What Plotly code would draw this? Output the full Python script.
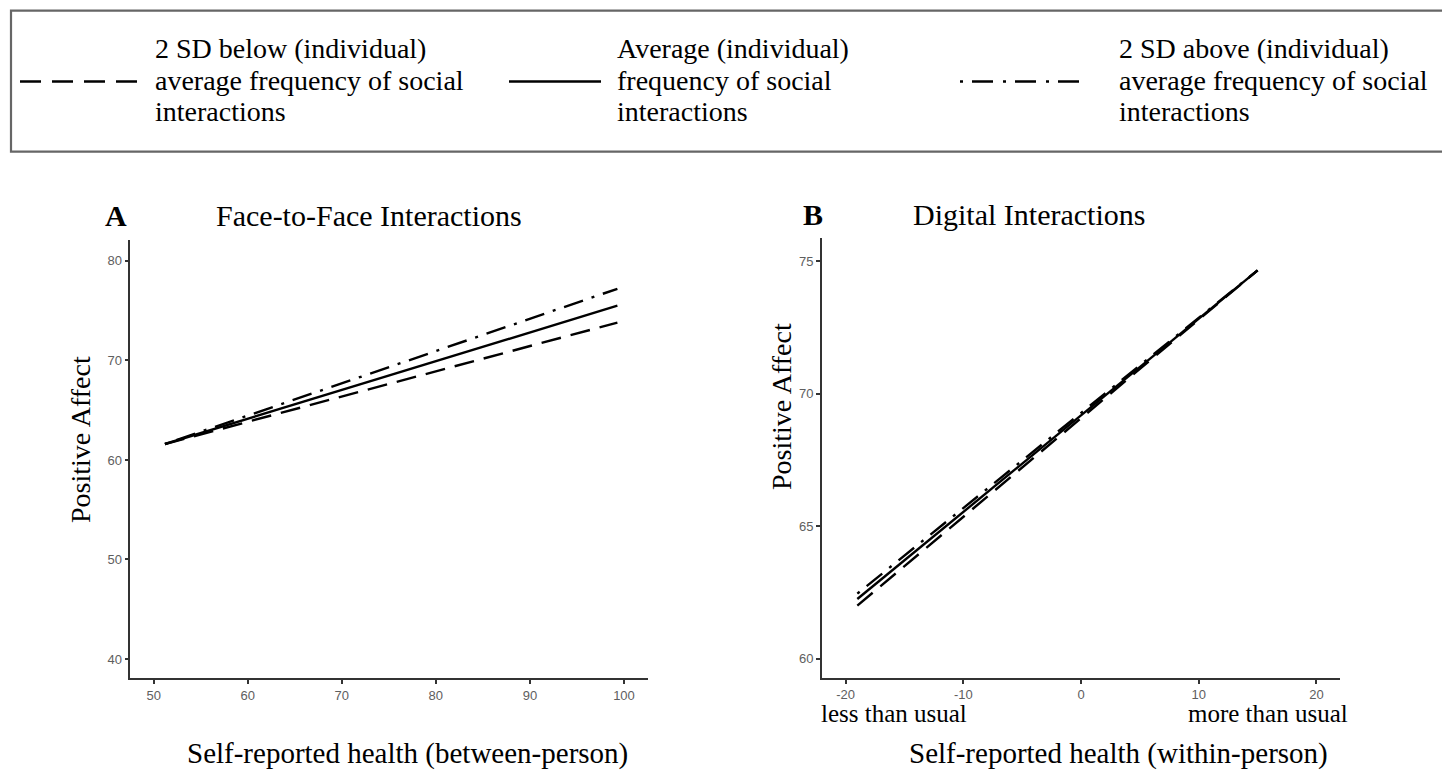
import plotly.graph_objects as go

# Browser page has an 8px body margin: compensate so page pixels match the reference.
OFF = 8
W, H = 1450 - OFF, 776 - OFF

def px(x):
    return (x - OFF) / W

def py(y):
    return 1 - (y - OFF) / H

# ---------------- data ----------------
# Panel A: Face-to-Face interactions
a_health = [51.2, 99.3]
a_below = [61.6, 73.8]
a_avg = [61.6, 75.5]
a_above = [61.6, 77.2]

# Panel B: Digital interactions
b_health = [-19.0, 15.0]
b_below = [62.0, 74.65]
b_avg = [62.25, 74.65]
b_above = [62.45, 74.65]

a_xticks = [50, 60, 70, 80, 90, 100]
a_yticks = [40, 50, 60, 70, 80]
b_xticks = [-20, -10, 0, 10, 20]
b_yticks = [60, 65, 70, 75]

legend_labels = [
    ["2 SD below (individual)", "average frequency of social", "interactions"],
    ["Average (individual)", "frequency of social", "interactions"],
    ["2 SD above (individual)", "average frequency of social", "interactions"],
]

DASH = "20px,10px"
DOTDASH = "3px,9px,20px,9px"
LW = 2.4

fig = go.Figure()

for xs, ys, dash, xa, ya in [
    (a_health, a_below, DASH, "x", "y"),
    (a_health, a_avg, "solid", "x", "y"),
    (a_health, a_above, DOTDASH, "x", "y"),
    (b_health, b_below, DASH, "x2", "y2"),
    (b_health, b_avg, "solid", "x2", "y2"),
    (b_health, b_above, DOTDASH, "x2", "y2"),
]:
    fig.add_trace(go.Scatter(x=xs, y=ys, mode="lines", xaxis=xa, yaxis=ya,
                             line=dict(color="black", width=LW, dash=dash),
                             showlegend=False, hoverinfo="skip"))

axis_common = dict(showline=True, linecolor="#333333", linewidth=1.8,
                   ticks="outside", ticklen=4, tickwidth=1.5, tickcolor="#333333",
                   showgrid=False, zeroline=False,
                   tickfont=dict(family="Liberation Sans, Arial", size=13, color="#5e5e5e"))

def labels(vals):
    return [str(v) for v in vals]

fig.update_layout(
    width=W, height=H, autosize=False,
    margin=dict(l=0, r=0, t=0, b=0),
    paper_bgcolor="white", plot_bgcolor="white",
    xaxis=dict(domain=[px(130.4), px(647.5)], range=[47.53, 102.5],
               tickvals=a_xticks, ticktext=labels(a_xticks), anchor="y", **axis_common),
    yaxis=dict(domain=[py(678.3), py(240)], range=[38.06, 82.1],
               tickvals=a_yticks, ticktext=labels(a_yticks), anchor="x", **axis_common),
    xaxis2=dict(domain=[px(822), px(1340)], range=[-22, 22],
                tickvals=b_xticks, ticktext=labels(b_xticks), anchor="y2", **axis_common),
    yaxis2=dict(domain=[py(677.7), py(238)], range=[59.28, 75.87],
                tickvals=b_yticks, ticktext=labels(b_yticks), anchor="x2", **axis_common),
)

shapes = []
# legend box
shapes.append(dict(type="rect", xref="paper", yref="paper",
                   x0=px(11), x1=px(1448), y0=py(151.7), y1=py(10.7),
                   line=dict(color="#666666", width=2.2), fillcolor="rgba(0,0,0,0)"))
# legend keys
for x0, x1, dash in [(20, 139, "21px,11px"), (509, 601, "solid"), (960, 1082, "3px,9px,21px,10px")]:
    shapes.append(dict(type="line", xref="paper", yref="paper",
                       x0=px(x0), x1=px(x1), y0=py(81.5), y1=py(81.5),
                       line=dict(color="black", width=2.6, dash=dash)))
fig.update_layout(shapes=shapes)

serif = "Liberation Serif, Times New Roman, serif"

def text(t, x, y, size, xanchor="left", angle=0):
    return dict(text=t, x=px(x), y=py(y), xref="paper", yref="paper",
                xanchor=xanchor, yanchor="middle", showarrow=False, textangle=angle,
                font=dict(family=serif, size=size, color="black"))

ann = []
# legend texts
for x0, lines in zip([153, 615, 1117], legend_labels):
    for ly, t in zip([49, 80.5, 111.5], lines):
        ann.append(text(t, x0, ly, 28))
# panel labels & titles
ann.append(text("<b>A</b>", 116, 216, 30, "center"))
ann.append(text("Face-to-Face Interactions", 214, 216, 30))
ann.append(text("<b>B</b>", 813, 214, 30, "center"))
ann.append(text("Digital Interactions", 911, 214, 30))
# y axis titles
ann.append(text("Positive Affect", 80, 440, 28, "center", -90))
ann.append(text("Positive Affect", 781, 407, 28, "center", -90))
# x axis titles
ann.append(text("Self-reported health (between-person)", 185, 753, 29))
ann.append(text("Self-reported health (within-person)", 907, 753, 29))
# less / more than usual
ann.append(text("less than usual", 819, 713, 25))
ann.append(text("more than usual", 1350, 713, 25, "right"))
fig.update_layout(annotations=ann)

fig.write_html("out.html")
